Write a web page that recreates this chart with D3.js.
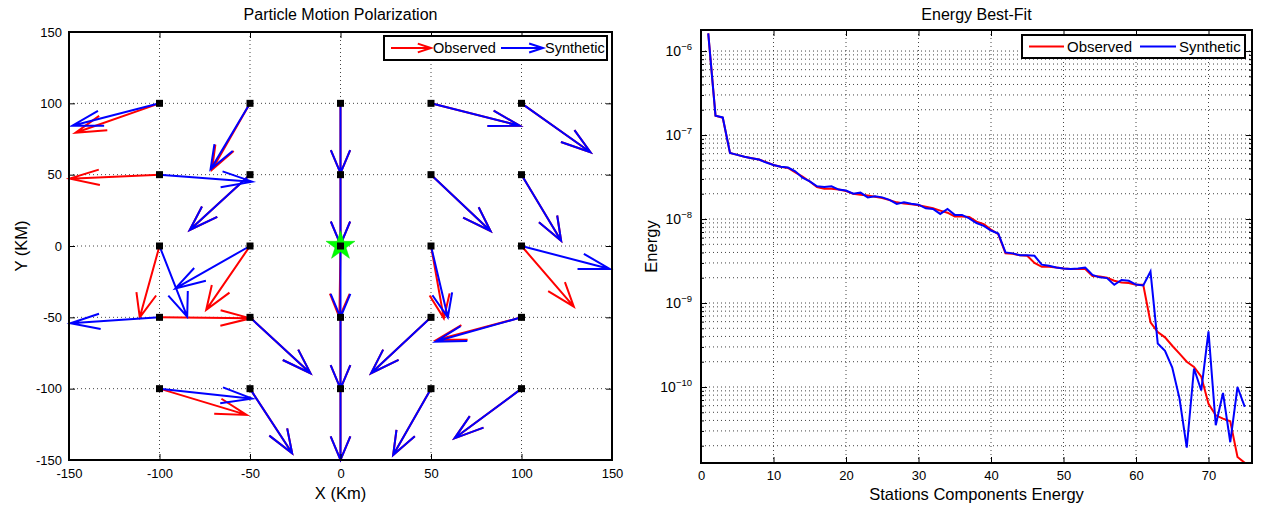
<!DOCTYPE html>
<html>
<head>
<meta charset="utf-8">
<script src="https://cdn.jsdelivr.net/npm/d3@7"></script>
<style>
body { margin: 0; background: #fff; }
text { font-family: "Liberation Sans", Arial, sans-serif; fill: #000; }
</style>
</head>
<body>
<svg id="chart" width="1261" height="505"></svg>
<script>
// station positions (km)
var stations = [
    [-100, 100], [-50, 100], [0, 100], [50, 100], [100, 100],
    [-100, 50], [-50, 50], [0, 50], [50, 50], [100, 50],
    [-100, 0], [-50, 0], [0, 0], [50, 0], [100, 0],
    [-100, -50], [-50, -50], [0, -50], [50, -50], [100, -50],
    [-100, -100], [-50, -100], [0, -100], [50, -100], [100, -100]
];
// polarization vectors [u, v]
var observed = [
    [-46.4, -20.6], [-21, -46.5], [0, -49], [49.1, -15.7], [38.1, -34.3],
    [-49.6, -2.8], [-33.3, -38.8], [0, -49], [32.9, -39.5], [21.9, -46.3],
    [-10.9, -50], [-24.2, -44.8], [-0.6, -50], [7.1, -50.7], [28.9, -42.5],
    [50.3, -0.7], [33.4, -39.2], [0, -50], [-33.1, -39.2], [-47, -15.8],
    [48.1, -18.4], [23.3, -45.3], [0, -50], [-20.9, -46.5], [-37, -34.8]
];
var synthetic = [
    [-48.2, -15.7], [-21.8, -46.3], [0, -49], [49.1, -15.7], [38.1, -34.3],
    [51.2, -4.9], [-33.3, -38.8], [0, -49], [32.9, -39.5], [21.9, -46.3],
    [15.3, -49.5], [-41.2, -29.7], [0, -50], [9.3, -50], [48.8, -16.1],
    [-49.2, -4.2], [33.4, -39.2], [0, -50], [-33.1, -39.2], [-47.5, -17],
    [51.2, -7], [23.3, -45.3], [0, -50], [-20.9, -46.5], [-37, -34.8]
];
var source = [0, 0];
var gridTicks = [-150, -100, -50, 0, 50, 100, 150];

// energy per station component
var energyObserved = [
    1.62e-6, 1.7e-7, 1.6e-7, 6.1e-8, 5.8e-8, 5.5e-8, 5.3e-8, 5.1e-8, 4.75e-8, 4.4e-8,
    4.2e-8, 4.05e-8, 3.6e-8, 3.2e-8, 2.8e-8, 2.4e-8, 2.3e-8, 2.3e-8, 2.24e-8, 2.15e-8,
    2.0e-8, 1.95e-8, 1.9e-8, 1.84e-8, 1.78e-8, 1.68e-8, 1.58e-8, 1.53e-8, 1.5e-8, 1.46e-8,
    1.4e-8, 1.34e-8, 1.26e-8, 1.19e-8, 1.07e-8, 1.07e-8, 1.06e-8, 9.3e-9, 8.7e-9, 7.5e-9,
    6.6e-9, 3.9e-9, 3.85e-9, 3.7e-9, 3.65e-9, 3.0e-9, 2.7e-9, 2.7e-9, 2.65e-9, 2.58e-9,
    2.54e-9, 2.54e-9, 2.54e-9, 2.1e-9, 2.07e-9, 2.0e-9, 1.84e-9, 1.76e-9, 1.73e-9, 1.65e-9,
    1.65e-9, 5.9e-10, 4.5e-10, 3.9e-10, 3.1e-10, 2.5e-10, 2.0e-10, 1.73e-10, 1.33e-10, 6.3e-11,
    4.6e-11, 4.2e-11, 3.9e-11, 1.47e-11, 1.25e-11
];
var energySynthetic = [
    1.62e-6, 1.7e-7, 1.62e-7, 6.1e-8, 5.8e-8, 5.5e-8, 5.3e-8, 5.1e-8, 4.7e-8, 4.4e-8,
    4.2e-8, 4.1e-8, 3.7e-8, 3.1e-8, 2.8e-8, 2.45e-8, 2.4e-8, 2.45e-8, 2.24e-8, 2.18e-8,
    2.0e-8, 2.06e-8, 1.81e-8, 1.86e-8, 1.81e-8, 1.69e-8, 1.51e-8, 1.58e-8, 1.52e-8, 1.48e-8,
    1.34e-8, 1.32e-8, 1.15e-8, 1.32e-8, 1.12e-8, 1.12e-8, 1.02e-8, 8.96e-9, 8.3e-9, 7.3e-9,
    6.7e-9, 4.0e-9, 3.9e-9, 3.7e-9, 3.7e-9, 3.65e-9, 2.86e-9, 2.77e-9, 2.65e-9, 2.58e-9,
    2.54e-9, 2.58e-9, 2.65e-9, 2.16e-9, 2.02e-9, 1.98e-9, 1.65e-9, 1.88e-9, 1.84e-9, 1.66e-9,
    1.62e-9, 2.37e-9, 3.3e-10, 2.7e-10, 1.7e-10, 7.3e-11, 1.9e-11, 1.66e-10, 9.1e-11, 4.6e-10,
    3.5e-11, 8.5e-11, 2.2e-11, 1.0e-10, 5.8e-11
];
var energyXTicks = [0, 10, 20, 30, 40, 50, 60, 70];
var energyDecades = [-10, -9, -8, -7, -6];

var svg = d3.select("#chart");
var RED = "#ff0000", BLUE = "#0000ff";

function dotted(sel) {
    sel.attr("stroke", "#444").attr("stroke-width", 1).attr("stroke-dasharray", "1,3");
}

// ---------------- left: particle motion ----------------
var xL = d3.scaleLinear().domain([-150, 150]).range([69, 612]);
var yL = d3.scaleLinear().domain([-150, 150]).range([460, 32]);

var left = svg.append("g");

// grid
left.append("g").selectAll("line").data(gridTicks.slice(1, -1)).join("line")
    .attr("x1", d => xL(d)).attr("x2", d => xL(d))
    .attr("y1", yL(150)).attr("y2", yL(-150)).call(dotted);
left.append("g").selectAll("line").data(gridTicks.slice(1, -1)).join("line")
    .attr("y1", d => yL(d)).attr("y2", d => yL(d))
    .attr("x1", xL(-150)).attr("x2", xL(150)).call(dotted);

// quiver arrow in data space (alpha = beta = 0.33 as matlab quiver)
function arrowPath(x, y, u, v, xs, ys) {
    var a = 0.33, b = 0.33;
    var tx = x + u, ty = y + v;
    var h1x = tx - a * (u + b * v), h1y = ty - a * (v - b * u);
    var h2x = tx - a * (u - b * v), h2y = ty - a * (v + b * u);
    return "M" + xs(x) + "," + ys(y) + "L" + xs(tx) + "," + ys(ty) +
        "M" + xs(h1x) + "," + ys(h1y) + "L" + xs(tx) + "," + ys(ty) + "L" + xs(h2x) + "," + ys(h2y);
}

var arrows = left.append("g").attr("fill", "none").attr("stroke-width", 2);
arrows.selectAll("path.obs").data(observed).join("path").attr("class", "obs")
    .attr("stroke", RED)
    .attr("d", (d, i) => arrowPath(stations[i][0], stations[i][1], d[0], d[1], xL, yL));
arrows.selectAll("path.syn").data(synthetic).join("path").attr("class", "syn")
    .attr("stroke", BLUE)
    .attr("d", (d, i) => arrowPath(stations[i][0], stations[i][1], d[0], d[1], xL, yL));

// source star
left.append("path")
    .attr("d", d3.symbol().type(d3.symbolStar).size(260)())
    .attr("transform", "translate(" + xL(source[0]) + "," + yL(source[1]) + ")")
    .attr("fill", "#00ff00").attr("stroke", "#00dd00").attr("stroke-width", 0.5);

// stations
left.append("g").selectAll("rect").data(stations).join("rect")
    .attr("x", d => xL(d[0]) - 3.5).attr("y", d => yL(d[1]) - 3.5)
    .attr("width", 7).attr("height", 7).attr("fill", "#000");

// axes
function styleAxis(g) {
    g.select(".domain").remove();
    g.selectAll("line").attr("stroke", "#000").attr("stroke-width", 1);
    g.selectAll("text").attr("font-size", 13).attr("fill", "#000");
}
var fmt = d => String(d);
left.append("g").attr("transform", "translate(0," + yL(-150) + ")")
    .call(d3.axisBottom(xL).tickValues(gridTicks).tickSize(-6).tickPadding(9).tickFormat(fmt)).call(styleAxis);
left.append("g").attr("transform", "translate(0," + yL(150) + ")")
    .call(d3.axisTop(xL).tickValues(gridTicks).tickSize(-6).tickFormat("")).call(styleAxis);
left.append("g").attr("transform", "translate(" + xL(-150) + ",0)")
    .call(d3.axisLeft(yL).tickValues(gridTicks).tickSize(-6).tickPadding(7).tickFormat(fmt)).call(styleAxis);
left.append("g").attr("transform", "translate(" + xL(150) + ",0)")
    .call(d3.axisRight(yL).tickValues(gridTicks).tickSize(-6).tickFormat("")).call(styleAxis);

left.append("rect")
    .attr("x", xL(-150)).attr("y", yL(150))
    .attr("width", xL(150) - xL(-150)).attr("height", yL(-150) - yL(150))
    .attr("fill", "none").attr("stroke", "#000").attr("stroke-width", 2);

left.append("text").attr("x", (xL(-150) + xL(150)) / 2).attr("y", 20)
    .attr("text-anchor", "middle").attr("font-size", 16).text("Particle Motion Polarization");
left.append("text").attr("x", (xL(-150) + xL(150)) / 2).attr("y", 499)
    .attr("text-anchor", "middle").attr("font-size", 16.5).text("X (Km)");
left.append("text").attr("transform", "translate(27," + yL(0) + ") rotate(-90)")
    .attr("text-anchor", "middle").attr("font-size", 16.5).text("Y (KM)");

// legend
var lg = left.append("g");
lg.append("rect").attr("x", 384).attr("y", 36).attr("width", 223).attr("height", 24)
    .attr("fill", "#fff").attr("stroke", "#000").attr("stroke-width", 2);
function legendArrow(x1, x2, y, color) {
    var hl = 0.33 * (x2 - x1), hw = 0.33 * hl;
    lg.append("path").attr("fill", "none").attr("stroke", color).attr("stroke-width", 2)
        .attr("d", "M" + x1 + "," + y + "L" + x2 + "," + y +
            "M" + (x2 - hl) + "," + (y - hw) + "L" + x2 + "," + y + "L" + (x2 - hl) + "," + (y + hw));
}
legendArrow(391, 431, 48, RED);
lg.append("text").attr("x", 433).attr("y", 53).attr("font-size", 14.5).text("Observed");
legendArrow(501, 543, 48, BLUE);
lg.append("text").attr("x", 545).attr("y", 53).attr("font-size", 14.5).text("Synthetic");

// ---------------- right: energy best-fit ----------------
var xR = d3.scaleLinear().domain([0, 76]).range([701, 1252]);
var yR = d3.scaleLog().domain([1.245e-11, 1.78e-6]).range([463, 30]);

var right = svg.append("g");
var yMin = yR.domain()[0], yMax = yR.domain()[1];

var minors = [];
for (var e = -12; e <= -6; e++) {
    for (var m = 1; m <= 9; m++) {
        var val = m * Math.pow(10, e);
        if (val >= yMin && val <= yMax) minors.push(val);
    }
}

right.append("g").selectAll("line").data(energyXTicks.slice(1)).join("line")
    .attr("x1", d => xR(d)).attr("x2", d => xR(d))
    .attr("y1", yR(yMax)).attr("y2", yR(yMin)).call(dotted);
right.append("g").selectAll("line").data(minors).join("line")
    .attr("y1", d => yR(d)).attr("y2", d => yR(d))
    .attr("x1", xR(0)).attr("x2", xR(76)).call(dotted);

right.append("clipPath").attr("id", "clipR").append("rect")
    .attr("x", xR(0)).attr("y", yR(yMax)).attr("width", xR(76) - xR(0)).attr("height", yR(yMin) - yR(yMax));

var line = d3.line().x((d, i) => xR(i + 1)).y(d => yR(d));
var lines = right.append("g").attr("clip-path", "url(#clipR)").attr("fill", "none").attr("stroke-width", 2);
lines.append("path").attr("stroke", RED).attr("d", line(energyObserved));
lines.append("path").attr("stroke", BLUE).attr("d", line(energySynthetic));

var decadeVals = energyDecades.map(p => Math.pow(10, p));
right.append("g").attr("transform", "translate(0," + yR(yMin) + ")")
    .call(d3.axisBottom(xR).tickValues(energyXTicks).tickSize(-6).tickPadding(8).tickFormat(fmt)).call(styleAxis);
right.append("g").attr("transform", "translate(0," + yR(yMax) + ")")
    .call(d3.axisTop(xR).tickValues(energyXTicks).tickSize(-6).tickFormat("")).call(styleAxis);

var yAx = right.append("g").attr("transform", "translate(" + xR(0) + ",0)")
    .call(d3.axisLeft(yR).tickValues(decadeVals).tickSize(-6).tickPadding(9).tickFormat("")).call(styleAxis);
yAx.selectAll(".tick text").attr("font-size", 14).each(function (d) {
    var t = d3.select(this);
    t.append("tspan").text("10");
    t.append("tspan").attr("font-size", 9.5).attr("dy", -6).text("\u2212" + Math.round(-Math.log10(d)));
});
right.append("g").attr("transform", "translate(" + xR(0) + ",0)")
    .call(d3.axisLeft(yR).tickValues(minors).tickSize(-3).tickFormat("")).call(styleAxis);
right.append("g").attr("transform", "translate(" + xR(76) + ",0)")
    .call(d3.axisRight(yR).tickValues(decadeVals).tickSize(-6).tickFormat("")).call(styleAxis);
right.append("g").attr("transform", "translate(" + xR(76) + ",0)")
    .call(d3.axisRight(yR).tickValues(minors).tickSize(-3).tickFormat("")).call(styleAxis);

right.append("rect")
    .attr("x", xR(0)).attr("y", yR(yMax))
    .attr("width", xR(76) - xR(0)).attr("height", yR(yMin) - yR(yMax))
    .attr("fill", "none").attr("stroke", "#000").attr("stroke-width", 2);

right.append("text").attr("x", (xR(0) + xR(76)) / 2).attr("y", 20)
    .attr("text-anchor", "middle").attr("font-size", 16).text("Energy Best-Fit");
right.append("text").attr("x", (xR(0) + xR(76)) / 2).attr("y", 500)
    .attr("text-anchor", "middle").attr("font-size", 16.5).text("Stations Components Energy");
right.append("text").attr("transform", "translate(657," + ((yR(yMax) + yR(yMin)) / 2) + ") rotate(-90)")
    .attr("text-anchor", "middle").attr("font-size", 16.5).text("Energy");

var rg = right.append("g");
rg.append("rect").attr("x", 1022).attr("y", 35).attr("width", 223).attr("height", 23)
    .attr("fill", "#fff").attr("stroke", "#000").attr("stroke-width", 2);
rg.append("line").attr("x1", 1029).attr("x2", 1064).attr("y1", 46.5).attr("y2", 46.5)
    .attr("stroke", RED).attr("stroke-width", 2);
rg.append("text").attr("x", 1067).attr("y", 52).attr("font-size", 15).text("Observed");
rg.append("line").attr("x1", 1140).attr("x2", 1176).attr("y1", 46.5).attr("y2", 46.5)
    .attr("stroke", BLUE).attr("stroke-width", 2);
rg.append("text").attr("x", 1179).attr("y", 52).attr("font-size", 15).text("Synthetic");
</script>
</body>
</html>
